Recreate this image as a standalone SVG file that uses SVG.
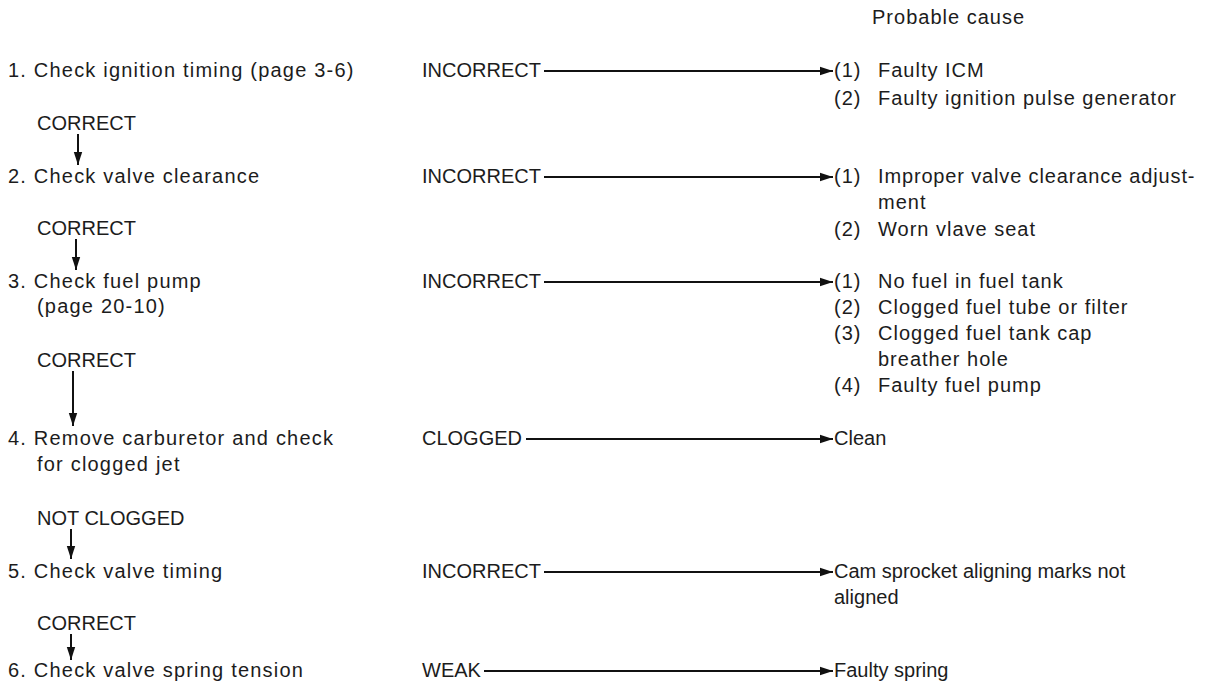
<svg xmlns="http://www.w3.org/2000/svg" width="1205" height="687" viewBox="0 0 1205 687">
<style>
text{font-family:"Liberation Sans",Arial,sans-serif;font-size:20px;fill:#1c1c1c}
.l{letter-spacing:1.2px}
.r{letter-spacing:1px}
.c{letter-spacing:0px}
.ln{stroke:#111;stroke-width:2;fill:none}
</style>
<defs>
<marker id="ah" markerUnits="userSpaceOnUse" markerWidth="14" markerHeight="10" refX="13" refY="5" orient="auto">
<path d="M0,0.8 L13,5 L0,9.2 Z" fill="#111"/>
</marker>
</defs>
<rect width="1205" height="687" fill="#fff"/>
<text x="1025" y="24" text-anchor="end" class="r">Probable cause</text>

<g id="step1"><text x="8" y="77" class="l">1. Check ignition timing (page 3-6)</text></g>
<g id="lbl1"><text x="37" y="130" class="c">CORRECT</text></g>
<g id="step2"><text x="8" y="183" class="l">2. Check valve clearance</text></g>
<g id="lbl2"><text x="37" y="235" class="c">CORRECT</text></g>
<g id="step3"><text x="8" y="288" class="l">3. Check fuel pump</text><text x="37" y="313" class="l">(page 20-10)</text></g>
<g id="lbl3"><text x="37" y="367" class="c">CORRECT</text></g>
<g id="step4"><text x="8" y="445" class="l">4. Remove carburetor and check</text><text x="37" y="471" class="l">for clogged jet</text></g>
<g id="lbl4"><text x="37" y="525" class="c">NOT CLOGGED</text></g>
<g id="step5"><text x="8" y="578" class="l">5. Check valve timing</text></g>
<g id="lbl5"><text x="37" y="630" class="c">CORRECT</text></g>
<g id="step6"><text x="8" y="677" class="l">6. Check valve spring tension</text></g>

<g id="res1"><text x="422" y="77" class="c">INCORRECT</text></g>
<g id="res2"><text x="422" y="183" class="c">INCORRECT</text></g>
<g id="res3"><text x="422" y="288" class="c">INCORRECT</text></g>
<g id="res4"><text x="422" y="445" class="c">CLOGGED</text></g>
<g id="res5"><text x="422" y="578" class="c">INCORRECT</text></g>
<g id="res6"><text x="422" y="677" class="c">WEAK</text></g>

<g id="cause1">
<text x="834" y="77" class="r">(1)</text><text x="878" y="77" class="r">Faulty ICM</text>
<text x="834" y="105" class="r">(2)</text><text x="878" y="105" class="r">Faulty ignition pulse generator</text>
</g>
<g id="cause2">
<text x="834" y="183" class="r">(1)</text><text x="878" y="183" class="r" style="letter-spacing:0.85px">Improper valve clearance adjust-</text>
<text x="878" y="209" class="r">ment</text>
<text x="834" y="236" class="r">(2)</text><text x="878" y="236" class="r">Worn vlave seat</text>
</g>
<g id="cause3">
<text x="834" y="288" class="r">(1)</text><text x="878" y="288" class="r">No fuel in fuel tank</text>
<text x="834" y="314" class="r">(2)</text><text x="878" y="314" class="r">Clogged fuel tube or filter</text>
<text x="834" y="340" class="r">(3)</text><text x="878" y="340" class="r">Clogged fuel tank cap</text>
<text x="878" y="366" class="r">breather hole</text>
<text x="834" y="392" class="r">(4)</text><text x="878" y="392" class="r">Faulty fuel pump</text>
</g>
<g id="cause4"><text x="834" y="445" class="c">Clean</text></g>
<g id="cause5"><text x="834" y="578" class="c">Cam sprocket aligning marks not</text><text x="834" y="604" class="c">aligned</text></g>
<g id="cause6"><text x="834" y="677" class="c">Faulty spring</text></g>

<g id="connectors">
<line class="ln" x1="78" y1="134" x2="78" y2="165" marker-end="url(#ah)"/>
<line class="ln" x1="76" y1="239" x2="76" y2="270" marker-end="url(#ah)"/>
<line class="ln" x1="73" y1="371" x2="73" y2="426" marker-end="url(#ah)"/>
<line class="ln" x1="71" y1="529" x2="71" y2="559" marker-end="url(#ah)"/>
<line class="ln" x1="71" y1="634" x2="71" y2="660" marker-end="url(#ah)"/>
<line class="ln" x1="544" y1="71" x2="833" y2="71" marker-end="url(#ah)"/>
<line class="ln" x1="544" y1="177" x2="833" y2="177" marker-end="url(#ah)"/>
<line class="ln" x1="544" y1="282" x2="833" y2="282" marker-end="url(#ah)"/>
<line class="ln" x1="526" y1="439" x2="833" y2="439" marker-end="url(#ah)"/>
<line class="ln" x1="544" y1="572" x2="833" y2="572" marker-end="url(#ah)"/>
<line class="ln" x1="484" y1="671" x2="833" y2="671" marker-end="url(#ah)"/>
</g>
</svg>
